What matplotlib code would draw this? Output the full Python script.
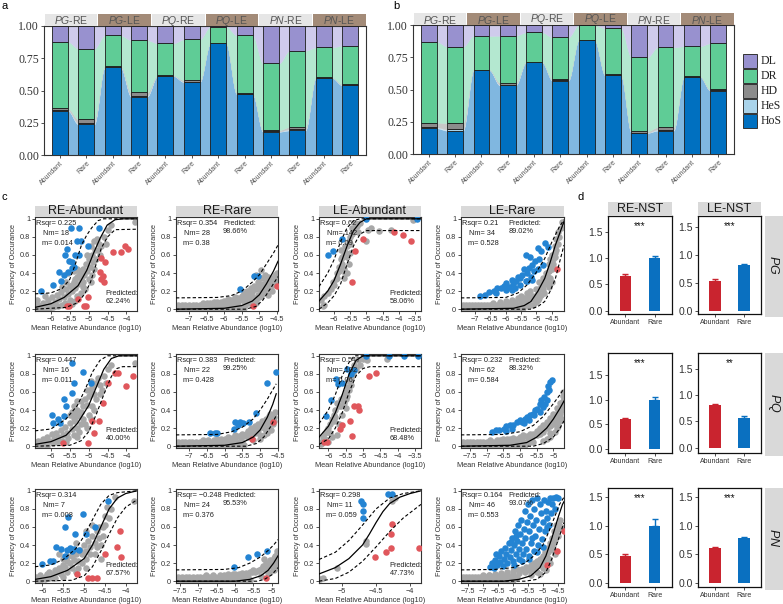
import numpy as np
import matplotlib
matplotlib.use("Agg")
import matplotlib.pyplot as plt
from matplotlib.patches import Rectangle

plt.rcParams['font.family'] = ['Liberation Sans', 'DejaVu Sans']
plt.rcParams['mathtext.fontset'] = 'custom'
plt.rcParams['mathtext.rm'] = 'Liberation Sans'
plt.rcParams['mathtext.it'] = 'Liberation Sans:italic'

# ---------------- DATA: panels a / b ----------------
BAR_LABELS = ["Abundant", "Rare"] * 6
GROUP_SPECIES = ["PG", "PG", "PQ", "PQ", "PN", "PN"]
GROUP_COMP = ["RE", "LE", "RE", "LE", "RE", "LE"]
LEGEND_NAMES = ["DL", "DR", "HD", "HeS", "HoS"]

A_HoS = [0.343, 0.237, 0.679, 0.452, 0.612, 0.565, 0.866, 0.473, 0.180, 0.190, 0.600, 0.540]
A_HeS = [0.005, 0.010, 0.003, 0.008, 0.002, 0.003, 0.000, 0.003, 0.003, 0.008, 0.000, 0.002]
A_HD = [0.013, 0.029, 0.010, 0.025, 0.004, 0.012, 0.000, 0.007, 0.010, 0.018, 0.003, 0.008]
A_DR = [0.517, 0.548, 0.235, 0.405, 0.248, 0.316, 0.129, 0.444, 0.517, 0.592, 0.231, 0.297]
A_DL = [0.122, 0.176, 0.073, 0.110, 0.134, 0.104, 0.005, 0.073, 0.290, 0.192, 0.166, 0.153]

B_HoS = [0.199, 0.181, 0.649, 0.532, 0.711, 0.568, 0.884, 0.610, 0.163, 0.181, 0.600, 0.491]
B_HeS = [0.008, 0.010, 0.002, 0.006, 0.002, 0.003, 0.000, 0.002, 0.003, 0.008, 0.000, 0.002]
B_HD = [0.036, 0.049, 0.004, 0.015, 0.003, 0.008, 0.000, 0.006, 0.010, 0.018, 0.003, 0.008]
B_DR = [0.628, 0.592, 0.260, 0.364, 0.227, 0.325, 0.116, 0.356, 0.573, 0.620, 0.232, 0.357]
B_DL = [0.129, 0.168, 0.085, 0.083, 0.057, 0.096, 0.000, 0.026, 0.251, 0.173, 0.165, 0.142]

# ---------------- DATA: panel c (neutral model scatter) ----------------
# ---- PG, RE-Abundant
PG_RE_AB_GRAY = [(-6.40,0.02),(-6.33,0.05),(-6.27,0.02),(-6.20,0.07),(-6.14,0.03),(-6.08,0.10),(-6.02,0.05),
                 (-5.96,0.13),(-5.90,0.08),(-5.84,0.16),(-5.78,0.11),(-5.72,0.19),(-5.66,0.14),(-5.60,0.22),
                 (-5.55,0.17),(-5.50,0.26),(-5.45,0.20),(-5.40,0.30),(-5.36,0.24),(-5.32,0.36),(-5.28,0.28),
                 (-5.24,0.42),(-5.20,0.33),(-5.16,0.45),(-5.12,0.38),(-5.08,0.50),(-5.04,0.42),(-5.00,0.55),
                 (-4.96,0.47),(-4.92,0.60),(-4.88,0.52),(-4.84,0.66),(-4.78,0.78),(-4.72,0.72),(-4.66,0.70),
                 (-4.60,0.80),(-4.50,0.88),(-4.40,0.93),(-3.78,0.97),(-6.36,0.10),(-6.15,0.15),(-5.95,0.02),
                 (-5.70,0.05),(-5.50,0.10),(-5.30,0.15),(-5.10,0.22),(-4.95,0.30),(-5.40,0.42),(-5.30,0.45),
                 (-5.55,0.40)]
PG_RE_AB_GRAY_MORE = [(-6.38,0.0),(-6.3,0.0),(-6.22,0.0),(-6.12,0.0),(-6.05,0.0),(-5.88,0.03),(-5.8,0.04),
                      (-5.62,0.07),(-5.45,0.06),(-5.35,0.09),(-5.2,0.18),(-5.15,0.25),(-5.0,0.33),(-4.9,0.38),
                      (-4.85,0.45),(-4.8,0.55),(-4.7,0.6),(-4.75,0.65),(-5.35,0.33),(-5.25,0.38),(-5.15,0.3),
                      (-5.45,0.27),(-5.6,0.3),(-5.7,0.25),(-5.05,0.6),(-4.95,0.7),(-4.85,0.75),(-4.55,0.72)]
PG_RE_AB_BLUE = [(-5.48,0.90),(-5.26,0.90),(-4.73,0.90),(-5.30,0.75),(-5.21,0.75),(-5.56,0.67),(-5.01,0.70),
                 (-5.63,0.60),(-5.37,0.60),(-5.26,0.60),(-5.52,0.53),(-5.43,0.52),(-5.45,0.46),(-5.40,0.47),
                 (-5.78,0.41),(-5.65,0.38),(-5.54,0.41),(-6.25,0.20),(-5.94,0.27),(-5.72,0.31)]
PG_RE_AB_RED = [(-4.35,0.63),(-4.15,0.63),(-4.04,0.70),(-3.95,0.67),(-4.66,0.57),(-4.58,0.52),(-4.69,0.41),
                (-4.62,0.37),(-4.66,0.33),(-4.60,0.30),(-5.58,0.03),(-5.52,0.03),(-5.12,0.03),(-5.07,0.03),
                (-5.29,0.11),(-5.01,0.14)]
PG_RE_AB_FIT = [(-6.42,0.02),(-6.0,0.06),(-5.65,0.13),(-5.28,0.26),(-5.05,0.43),(-4.87,0.62),(-4.69,0.79),
                (-4.51,0.93),(-4.3,0.99),(-4.1,1.0),(-3.72,1.0)]
PG_RE_AB_UP = [(-6.42,0.17),(-6.0,0.18),(-5.7,0.23),(-5.5,0.33),(-5.35,0.5),(-5.19,0.71),(-5.05,0.82),
               (-4.92,0.9),(-4.75,0.98),(-4.6,1.0),(-3.72,1.0)]
PG_RE_AB_LO = [(-6.42,0.0),(-5.6,0.02),(-5.3,0.07),(-5.1,0.17),(-4.95,0.3),(-4.8,0.5),(-4.66,0.68),
               (-4.5,0.8),(-4.3,0.88),(-3.72,0.885)]
PG_RE_AB_STATS = ("0.225", "18", "0.014", "62.24%")

# ---- PG, RE-Rare
PG_RE_RA_BAND = [(0.01, [-7.35,-7.25,-7.15,-7.05,-6.95,-6.85,-6.75,-6.65,-6.55,-6.45,-6.35,-6.25,-6.15,-6.05,
                         -5.95,-5.85,-5.75,-5.65,-5.55,-5.45]),
                 (0.05, [-7.30,-7.20,-7.10,-7.00,-6.90,-6.80,-6.70,-6.60,-6.50,-6.40,-6.30,-6.20,-6.10,-6.00,
                         -5.90,-5.80,-5.70,-5.60])]
PG_RE_RA_GRAY = [(-6.4,0.07),(-6.2,0.08),(-6.0,0.09),(-5.9,0.11),(-5.8,0.10),(-5.7,0.13),(-5.6,0.12),
                 (-5.5,0.15),(-5.45,0.18),(-5.4,0.14),(-5.35,0.20),(-5.3,0.17),(-5.25,0.23),(-5.2,0.19),
                 (-5.15,0.26),(-5.1,0.22),(-5.05,0.30),(-5.0,0.25),(-4.95,0.35),(-4.9,0.28),(-4.85,0.38),
                 (-4.8,0.32),(-4.75,0.36),(-4.7,0.30),(-4.6,0.34),(-4.55,0.33),(-5.3,0.07),(-5.1,0.10),
                 (-4.95,0.15),(-4.85,0.20),(-5.09,0.38),(-4.94,0.43)]
PG_RE_RA_GRAY_MORE = [(-6.6,0.065),(-6.5,0.07),(-6.3,0.075),(-6.1,0.08),(-5.95,0.085),(-5.85,0.07),(-5.75,0.09),
                      (-5.65,0.08),(-5.55,0.10),(-5.45,0.09),(-5.35,0.12),(-5.25,0.10),(-5.2,0.14),(-5.15,0.12),
                      (-5.05,0.16),(-5.0,0.13),(-4.95,0.20),(-4.9,0.18),(-4.85,0.24),(-4.8,0.22),(-4.75,0.27),
                      (-4.7,0.25),(-4.65,0.30),(-4.6,0.27),(-4.55,0.38),(-4.5,0.30),(-4.5,0.40),(-4.75,0.16),
                      (-4.65,0.20),(-5.1,0.07),(-5.4,0.05)]
PG_RE_RA_BLUE = [(-5.54,0.22),(-5.16,0.37),(-5.04,0.37)]
PG_RE_RA_RED = [(-5.19,0.04),(-4.50,0.26)]
PG_RE_RA_FIT = [(-7.37,0.0),(-6.0,0.01),(-5.5,0.04),(-5.2,0.09),(-5.0,0.16),(-4.8,0.28),(-4.6,0.42),(-4.47,0.53)]
PG_RE_RA_UP = [(-7.37,0.125),(-6.2,0.13),(-5.8,0.15),(-5.5,0.2),(-5.2,0.3),(-5.0,0.38),(-4.8,0.5),(-4.6,0.62),(-4.47,0.71)]
PG_RE_RA_LO = [(-7.37,0.0),(-5.4,0.0),(-5.1,0.03),(-4.9,0.1),(-4.7,0.22),(-4.47,0.36)]
PG_RE_RA_STATS = ("0.354", "28", "0.38", "98.66%")

# ---- PG, LE-Abundant
PG_LE_AB_GRAY = [(-6.4,0.10),(-6.35,0.03),(-6.3,0.05),(-6.1,0.22),(-6.0,0.27),(-5.95,0.33),(-5.9,0.40),
                 (-5.85,0.47),(-5.8,0.55),(-5.75,0.50),(-5.7,0.60),(-5.65,0.63),(-5.6,0.58),(-5.6,0.70),
                 (-5.55,0.75),(-5.5,0.80),(-5.45,0.83),(-5.4,0.88),(-5.3,0.92),(-5.2,0.95),(-5.6,0.40),
                 (-5.55,0.50),(-5.5,0.62),(-5.0,0.75),(-4.95,0.88),(-4.85,0.90),(-4.6,0.86),(-4.25,0.88),
                 (-3.55,0.99),(-5.7,0.45),(-5.8,0.65)]
PG_LE_AB_GRAY_MORE = [(-6.3,0.15),(-6.2,0.18),(-6.05,0.30),(-5.9,0.35),(-5.85,0.42),(-5.75,0.58),(-5.65,0.70),
                      (-5.5,0.72),(-5.45,0.90),(-5.35,0.95),(-5.25,0.85),(-5.7,0.35),(-5.65,0.40)]
PG_LE_AB_BLUE = [(-6.20,0.60),(-6.03,0.64),(-5.77,0.78),(-5.0,1.0),(-3.42,1.0)]
PG_LE_AB_RED = [(-5.46,0.30),(-5.36,0.64),(-5.12,0.78),(-4.14,0.85),(-3.88,0.82),(-3.62,0.75)]
PG_LE_AB_FIT = [(-6.47,0.09),(-6.2,0.2),(-6.0,0.32),(-5.8,0.5),(-5.6,0.7),(-5.4,0.87),(-5.2,0.96),(-5.0,1.0),(-3.31,1.0)]
PG_LE_AB_UP = [(-6.47,0.25),(-6.2,0.4),(-6.0,0.55),(-5.8,0.75),(-5.6,0.9),(-5.4,0.98),(-5.2,1.0),(-3.31,1.0)]
PG_LE_AB_LO = [(-6.47,0.0),(-6.2,0.07),(-6.0,0.15),(-5.8,0.28),(-5.6,0.5),(-5.4,0.7),(-5.2,0.83),(-5.0,0.87),(-3.31,0.87)]
PG_LE_AB_STATS = ("0.62", "142", "0.09", "58.06%")

# ---- PG, LE-Rare
PG_LE_RA_BAND = [(0.01, [-7.45,-7.35,-7.25,-7.15,-7.05,-6.95,-6.85,-6.75,-6.65,-6.55,-6.45,-6.35,-6.25,-6.15,
                         -6.05,-5.95,-5.85,-5.75,-5.65,-5.55,-5.45]),
                 (0.05, [-7.40,-7.30,-7.20,-7.10,-7.00,-6.90,-6.80,-6.70,-6.60,-6.50,-6.40,-6.30,-6.20,-6.10,
                         -6.00,-5.90,-5.80,-5.70,-5.60,-5.50,-5.40,-5.30,-5.20])]
PG_LE_RA_GRAY = [(-6.0,0.09),(-5.8,0.10),(-5.6,0.12),(-5.5,0.15),(-5.4,0.12),(-5.3,0.18),(-5.2,0.20),
                 (-5.1,0.15),(-5.0,0.22),(-4.9,0.30),(-4.85,0.25),(-4.8,0.35),(-4.7,0.40),(-4.65,0.33),
                 (-4.6,0.50),(-4.55,0.45),(-4.5,0.60),(-4.45,0.55),(-4.4,0.70),(-4.35,0.78),(-4.3,0.85),
                 (-4.2,0.90),(-4.15,0.96),(-5.0,0.08),(-4.9,0.12),(-4.75,0.18),(-4.6,0.25)]
PG_LE_RA_GRAY_MORE = [(-6.4,0.07),(-6.2,0.08),(-5.9,0.07),(-5.7,0.08),(-5.5,0.09),(-5.35,0.10),(-5.25,0.13),
                      (-5.15,0.11),(-5.05,0.14),(-4.95,0.18),(-4.9,0.22),(-4.8,0.22),(-4.75,0.28),(-4.7,0.30),
                      (-4.65,0.38),(-4.6,0.42),(-4.55,0.35),(-4.5,0.45),(-4.45,0.50),(-4.4,0.58),(-4.38,0.62),
                      (-4.35,0.65),(-4.3,0.72),(-4.25,0.80),(-4.5,0.30),(-4.55,0.55),(-4.65,0.28),(-4.85,0.16),
                      (-5.1,0.05),(-4.95,0.10)]
PG_LE_RA_BLUE = [(-6.83,0.15),(-6.69,0.16),(-6.55,0.19),(-6.38,0.20),(-6.30,0.23),(-6.15,0.23),(-6.07,0.26),
                 (-5.98,0.29),(-5.89,0.25),(-5.81,0.32),(-5.75,0.28),(-5.66,0.31),(-5.61,0.36),(-5.52,0.34),
                 (-5.47,0.38),(-5.41,0.44),(-5.35,0.31),(-5.30,0.40),(-5.24,0.46),(-5.18,0.36),(-5.13,0.49),
                 (-5.07,0.42),(-5.05,0.53),(-4.95,0.44),(-4.90,0.55),(-4.86,0.64),(-4.78,0.49),(-4.73,0.73),
                 (-4.61,0.69),(-5.52,0.27),(-5.69,0.24),(-5.30,0.31),(-5.13,0.32),(-5.98,0.21),(-5.81,0.21),
                 (-6.32,0.18),(-5.33,0.60),(-5.22,0.58),(-4.95,0.68)]
PG_LE_RA_RED = [(-4.33,0.44)]
PG_LE_RA_FIT = [(-7.46,0.0),(-5.75,0.01),(-5.4,0.04),(-5.18,0.085),(-4.95,0.2),(-4.73,0.34),(-4.55,0.52),(-4.38,0.71),(-4.1,0.97)]
PG_LE_RA_UP = [(-7.46,0.125),(-6.0,0.13),(-5.6,0.18),(-5.3,0.27),(-5.0,0.41),(-4.73,0.56),(-4.5,0.74),(-4.27,0.9),(-4.1,0.99)]
PG_LE_RA_LO = [(-7.46,0.0),(-5.2,0.0),(-4.95,0.03),(-4.73,0.085),(-4.55,0.2),(-4.38,0.34),(-4.1,0.71)]
PG_LE_RA_STATS = ("0.21", "34", "0.528", "89.02%")

# ---- PQ, RE-Abundant
PQ_RE_AB_GRAY = [(-6.40,0.02),(-6.34,0.06),(-6.28,0.03),(-6.22,0.08),(-6.16,0.04),(-6.10,0.10),(-6.04,0.06),
                 (-5.98,0.13),(-5.92,0.08),(-5.86,0.15),(-5.80,0.10),(-5.74,0.18),(-5.68,0.12),(-5.62,0.21),
                 (-5.56,0.15),(-5.50,0.26),(-5.45,0.19),(-5.40,0.31),(-5.35,0.36),(-5.30,0.40),(-5.25,0.33),
                 (-5.20,0.38),(-5.15,0.44),(-5.10,0.52),(-5.05,0.46),(-5.00,0.56),(-4.95,0.60),(-4.90,0.66),
                 (-4.85,0.58),(-4.80,0.70),(-4.75,0.75),(-4.70,0.68),(-4.60,0.78),(-4.50,0.85),(-4.40,0.90),
                 (-3.78,0.92),(-5.60,0.05),(-5.30,0.10),(-5.05,0.20),(-4.95,0.30),(-4.85,0.40),(-5.20,0.25),
                 (-5.45,0.38),(-5.35,0.28)]
PQ_RE_AB_GRAY_MORE = [(-6.38,0.0),(-6.3,0.0),(-6.2,0.02),(-6.1,0.0),(-5.95,0.03),(-5.85,0.05),(-5.7,0.06),
                      (-5.55,0.09),(-5.4,0.12),(-5.3,0.20),(-5.25,0.16),(-5.15,0.30),(-5.1,0.25),(-5.0,0.35),
                      (-4.9,0.45),(-4.8,0.52),(-4.7,0.58),(-4.65,0.62),(-5.4,0.45),(-5.3,0.50),(-5.2,0.50),
                      (-5.5,0.35),(-5.05,0.62),(-4.95,0.72),(-4.55,0.70)]
PQ_RE_AB_BLUE = [(-5.43,0.92),(-5.15,0.82),(-5.38,0.70),(-5.44,0.59),(-5.65,0.52),(-5.61,0.44),(-4.95,0.70),
                 (-5.96,0.34),(-5.94,0.26),(-5.76,0.26),(-5.65,0.33),(-5.80,0.30)]
PQ_RE_AB_RED = [(-4.48,0.70),(-4.31,0.81),(-4.22,0.81),(-3.82,0.78),(-4.00,0.67),(-4.92,0.28),(-4.73,0.28),
                (-4.85,0.15),(-5.03,0.04),(-5.67,0.04),(-4.62,0.48)]
PQ_RE_AB_FIT = [(-6.42,0.02),(-6.0,0.05),(-5.6,0.12),(-5.3,0.25),(-5.0,0.45),(-4.8,0.65),(-4.6,0.85),(-4.4,0.97),(-4.2,1.0),(-3.72,1.0)]
PQ_RE_AB_UP = [(-6.42,0.17),(-6.0,0.19),(-5.6,0.3),(-5.3,0.45),(-5.1,0.62),(-4.9,0.82),(-4.7,0.95),(-4.5,1.0),(-3.72,1.0)]
PQ_RE_AB_LO = [(-6.42,0.0),(-5.5,0.01),(-5.2,0.06),(-5.0,0.16),(-4.8,0.35),(-4.6,0.57),(-4.4,0.77),(-4.25,0.86),(-4.1,0.88),(-3.72,0.88)]
PQ_RE_AB_STATS = ("0.447", "16", "0.011", "40.00%")

# ---- PQ, RE-Rare
PQ_RE_RA_BAND = [(0.01, [-7.35,-7.25,-7.15,-7.05,-6.95,-6.85,-6.75,-6.65,-6.55,-6.45,-6.35,-6.25,-6.15,-6.05,
                         -5.95,-5.85,-5.75,-5.65,-5.55,-5.45]),
                 (0.05, [-7.30,-7.20,-7.10,-7.00,-6.90,-6.80,-6.70,-6.60,-6.50,-6.40,-6.30,-6.20,-6.10,-6.00,
                         -5.90,-5.80,-5.70,-5.60,-5.50])]
PQ_RE_RA_GRAY = [(-6.3,0.07),(-6.1,0.08),(-5.9,0.10),(-5.8,0.09),(-5.7,0.12),(-5.6,0.11),(-5.5,0.14),
                 (-5.4,0.13),(-5.35,0.17),(-5.3,0.15),(-5.25,0.20),(-5.2,0.18),(-5.15,0.22),(-5.1,0.20),
                 (-5.05,0.25),(-5.0,0.23),(-4.95,0.28),(-4.9,0.26),(-4.85,0.30),(-4.8,0.28),(-4.75,0.33),
                 (-4.7,0.30),(-4.65,0.35),(-4.6,0.28),(-5.2,0.07),(-5.0,0.12),(-4.85,0.18),(-4.72,0.36)]
PQ_RE_RA_GRAY_MORE = [(-6.6,0.065),(-6.45,0.07),(-6.2,0.075),(-6.0,0.08),(-5.85,0.07),(-5.7,0.09),(-5.55,0.10),
                      (-5.45,0.11),(-5.35,0.10),(-5.25,0.13),(-5.15,0.15),(-5.05,0.18),(-4.95,0.22),(-4.9,0.20),
                      (-4.8,0.25),(-4.75,0.23),(-4.7,0.27),(-4.65,0.25),(-4.6,0.32),(-4.58,0.38),(-4.9,0.12),
                      (-4.8,0.15),(-4.7,0.18),(-5.0,0.08)]
PQ_RE_RA_BLUE = [(-6.40,0.15),(-6.28,0.15),(-6.21,0.15),(-5.73,0.19),(-5.70,0.27),(-5.57,0.27),(-5.47,0.26),
                 (-5.30,0.27),(-5.11,0.37),(-4.80,0.70),(-4.57,0.82),(-5.63,0.23)]
PQ_RE_RA_RED = [(-5.23,0.08),(-4.63,0.27)]
PQ_RE_RA_FIT = [(-7.36,0.0),(-6.0,0.01),(-5.5,0.04),(-5.2,0.10),(-5.0,0.18),(-4.8,0.32),(-4.65,0.46),(-4.55,0.58)]
PQ_RE_RA_UP = [(-7.36,0.125),(-6.2,0.13),(-5.8,0.16),(-5.5,0.21),(-5.2,0.30),(-5.0,0.40),(-4.8,0.52),(-4.55,0.69)]
PQ_RE_RA_LO = [(-7.36,0.0),(-5.4,0.0),(-5.1,0.03),(-4.9,0.10),(-4.7,0.22),(-4.55,0.34)]
PQ_RE_RA_STATS = ("0.383", "22", "0.428", "99.25%")

# ---- PQ, LE-Abundant
PQ_LE_AB_GRAY = [(-6.2,0.05),(-6.15,0.10),(-6.1,0.15),(-6.0,0.20),(-5.95,0.25),(-5.9,0.30),(-5.85,0.35),
                 (-5.8,0.40),(-5.7,0.45),(-5.65,0.52),(-5.6,0.52),(-5.55,0.55),(-5.5,0.60),(-5.45,0.65),
                 (-5.4,0.72),(-5.35,0.75),(-5.3,0.80),(-5.2,0.85),(-5.1,0.90),(-5.0,0.97),(-4.9,0.95),
                 (-4.3,0.97),(-5.7,0.25),(-5.6,0.35),(-5.5,0.42),(-5.75,0.12),(-5.9,0.10),(-6.0,0.05)]
PQ_LE_AB_GRAY_MORE = [(-6.22,0.02),(-6.1,0.08),(-6.05,0.18),(-5.95,0.15),(-5.85,0.28),(-5.8,0.32),(-5.75,0.48),
                      (-5.65,0.45),(-5.55,0.48),(-5.5,0.52),(-5.45,0.55),(-5.4,0.62),(-5.35,0.68),(-5.25,0.90),
                      (-5.15,0.95)]
PQ_LE_AB_BLUE = [(-6.08,0.33),(-5.93,0.51),(-5.79,0.74),(-5.71,0.69),(-5.47,0.85),(-5.35,0.80),(-5.26,0.84),
                 (-4.92,1.0),(-4.25,1.0),(-3.83,1.0),(-3.43,1.0),(-5.60,0.70)]
PQ_LE_AB_RED = [(-6.13,0.05),(-6.03,0.05),(-5.66,0.19),(-5.60,0.23),(-5.31,0.11),(-5.26,0.45),(-5.16,0.45),
                (-5.11,0.40),(-4.82,0.78),(-4.63,0.81),(-5.37,0.28)]
PQ_LE_AB_FIT = [(-6.27,0.10),(-6.0,0.22),(-5.8,0.37),(-5.6,0.57),(-5.4,0.80),(-5.2,0.95),(-5.0,1.0),(-3.33,1.0)]
PQ_LE_AB_UP = [(-6.27,0.25),(-6.0,0.40),(-5.8,0.57),(-5.6,0.78),(-5.4,0.93),(-5.25,1.0),(-3.33,1.0)]
PQ_LE_AB_LO = [(-6.27,0.02),(-6.0,0.08),(-5.8,0.20),(-5.6,0.37),(-5.4,0.60),(-5.2,0.78),(-5.0,0.86),(-4.8,0.88),(-3.33,0.88)]
PQ_LE_AB_STATS = ("0.547", "102", "0.06", "68.48%")

# ---- PQ, LE-Rare
PQ_LE_RA_BAND = [(0.01, [-7.75,-7.65,-7.55,-7.45,-7.35,-7.25,-7.15,-7.05,-6.95,-6.85,-6.75,-6.65,-6.55,-6.45,
                         -6.35,-6.25,-6.15,-6.05,-5.95,-5.85]),
                 (0.05, [-7.70,-7.60,-7.50,-7.40,-7.30,-7.20,-7.10,-7.00,-6.90,-6.80,-6.70,-6.60,-6.50,-6.40,
                         -6.30,-6.20,-6.10,-6.00,-5.90,-5.80,-5.70,-5.60])]
PQ_LE_RA_GRAY = [(-6.6,0.07),(-6.4,0.08),(-6.2,0.09),(-6.0,0.10),(-5.9,0.12),(-5.8,0.11),(-5.7,0.14),
                 (-5.6,0.13),(-5.5,0.17),(-5.45,0.15),(-5.4,0.20),(-5.35,0.18),(-5.3,0.23),(-5.25,0.20),
                 (-5.2,0.27),(-5.15,0.24),(-5.1,0.31),(-5.05,0.28),(-5.0,0.36),(-4.95,0.33),(-4.9,0.42),
                 (-4.85,0.38),(-4.8,0.48),(-4.75,0.44),(-4.72,0.55),(-4.70,0.60),(-5.3,0.06),(-5.1,0.10),
                 (-4.95,0.16),(-4.85,0.22),(-4.75,0.30)]
PQ_LE_RA_GRAY_MORE = [(-6.9,0.065),(-6.7,0.07),(-6.5,0.075),(-6.3,0.08),(-6.1,0.085),(-5.95,0.09),(-5.75,0.095),
                      (-5.65,0.10),(-5.5,0.12),(-5.4,0.14),(-5.3,0.16),(-5.2,0.20),(-5.1,0.22),(-5.0,0.25),
                      (-4.95,0.27),(-4.9,0.30),(-4.85,0.32),(-4.8,0.36),(-4.75,0.40),(-4.72,0.45),(-4.7,0.50),
                      (-4.9,0.20),(-4.8,0.28),(-5.1,0.15),(-5.2,0.08)]
PQ_LE_RA_BLUE = [(-6.83,0.16),(-6.72,0.18),(-6.62,0.18),(-6.49,0.19),(-6.41,0.22),(-6.30,0.24),(-6.20,0.24),
                 (-6.09,0.27),(-6.01,0.29),(-5.94,0.27),(-5.86,0.30),(-5.78,0.32),(-5.70,0.34),(-5.62,0.36),
                 (-5.55,0.40),(-5.49,0.41),(-5.41,0.47),(-5.36,0.51),(-5.29,0.54),(-5.26,0.47),(-5.20,0.60),
                 (-5.15,0.67),(-5.10,0.71),(-5.05,0.73),(-5.41,0.38),(-5.57,0.34),(-5.73,0.29),(-5.89,0.26),
                 (-5.31,0.43),(-5.18,0.51),(-5.13,0.62),(-6.43,0.17),(-6.25,0.19)]
PQ_LE_RA_RED = []
PQ_LE_RA_FIT = [(-7.77,0.0),(-6.3,0.01),(-5.8,0.04),(-5.5,0.10),(-5.2,0.20),(-5.0,0.30),(-4.8,0.42),(-4.68,0.50)]
PQ_LE_RA_UP = [(-7.77,0.125),(-6.5,0.13),(-6.0,0.16),(-5.6,0.23),(-5.3,0.33),(-5.0,0.47),(-4.8,0.57),(-4.68,0.64)]
PQ_LE_RA_LO = [(-7.77,0.0),(-5.6,0.0),(-5.3,0.03),(-5.0,0.10),(-4.8,0.20),(-4.68,0.28)]
PQ_LE_RA_STATS = ("0.232", "62", "0.584", "88.32%")

# ---- PN, RE-Abundant
PN_RE_AB_GRAY = [(-6.15,0.05),(-6.10,0.02),(-6.05,0.07),(-5.95,0.05),(-5.90,0.08),(-5.85,0.10),(-5.80,0.05),
                 (-5.75,0.08),(-5.70,0.12),(-5.65,0.10),(-5.60,0.15),(-5.55,0.14),(-5.50,0.18),(-5.45,0.16),
                 (-5.40,0.22),(-5.35,0.20),(-5.30,0.28),(-5.25,0.24),(-5.20,0.30),(-5.15,0.22),(-5.10,0.35),
                 (-5.05,0.30),(-5.00,0.40),(-4.95,0.33),(-4.90,0.45),(-4.85,0.38),(-4.80,0.50),(-4.75,0.42),
                 (-4.70,0.55),(-4.65,0.48),(-4.60,0.40),(-4.55,0.60),(-4.50,0.72),(-4.45,0.82),(-4.35,0.80),
                 (-4.25,0.93),(-3.80,0.89),(-5.50,0.05),(-5.20,0.10),(-4.95,0.15),(-5.60,0.30),(-5.40,0.28),
                 (-4.75,0.30),(-4.60,0.25)]
PN_RE_AB_GRAY_MORE = [(-6.15,0.0),(-6.05,0.0),(-5.95,0.02),(-5.85,0.03),(-5.7,0.04),(-5.55,0.08),(-5.4,0.10),
                      (-5.3,0.15),(-5.15,0.15),(-5.05,0.20),(-4.95,0.25),(-4.85,0.30),(-4.7,0.38),(-4.65,0.60),
                      (-4.55,0.50),(-4.5,0.62),(-4.4,0.70),(-5.5,0.25),(-5.2,0.42),(-4.8,0.62),(-4.95,0.55)]
PN_RE_AB_BLUE = [(-4.43,0.89),(-5.38,0.71),(-5.03,0.74),(-5.47,0.60),(-5.23,0.52),(-4.96,0.52),(-4.75,0.60),
                 (-5.67,0.38),(-5.55,0.36),(-5.41,0.35),(-5.35,0.37),(-5.25,0.36),(-5.12,0.35),(-6.01,0.19),
                 (-5.82,0.22),(-5.74,0.22),(-5.46,0.28),(-5.30,0.33)]
PN_RE_AB_RED = [(-4.14,0.56),(-4.20,0.38),(-4.12,0.27),(-4.50,0.30),(-4.90,0.04),(-4.82,0.04),(-4.70,0.04),(-5.18,0.08)]
PN_RE_AB_FIT = [(-6.18,0.02),(-5.8,0.05),(-5.4,0.12),(-5.0,0.25),(-4.8,0.40),(-4.6,0.60),(-4.4,0.80),(-4.2,0.92),(-4.0,0.97),(-3.73,1.0)]
PN_RE_AB_UP = [(-6.18,0.16),(-5.8,0.18),(-5.5,0.24),(-5.2,0.36),(-5.0,0.50),(-4.8,0.68),(-4.6,0.85),(-4.4,0.95),(-4.2,0.98),(-3.73,1.0)]
PN_RE_AB_LO = [(-6.18,0.0),(-5.3,0.01),(-5.0,0.06),(-4.8,0.16),(-4.6,0.33),(-4.4,0.52),(-4.2,0.70),(-4.0,0.82),(-3.73,0.90)]
PN_RE_AB_STATS = ("0.314", "7", "0.008", "67.57%")

# ---- PN, RE-Rare
PN_RE_RA_BAND = [(0.01, [-7.60,-7.50,-7.40,-7.30,-7.20,-7.10,-7.00,-6.90,-6.80,-6.70,-6.60,-6.50,-6.40,-6.30,
                         -6.20,-6.10,-6.00,-5.90,-5.80,-5.70,-5.60]),
                 (0.05, [-7.55,-7.45,-7.35,-7.25,-7.15,-7.05,-6.95,-6.85,-6.75,-6.65,-6.55,-6.45,-6.35,-6.25,
                         -6.15,-6.05,-5.95,-5.85,-5.75,-5.65])]
PN_RE_RA_GRAY = [(-6.3,0.07),(-6.0,0.08),(-5.8,0.09),(-5.6,0.10),(-5.5,0.12),(-5.4,0.11),(-5.3,0.14),
                 (-5.25,0.17),(-5.2,0.15),(-5.15,0.20),(-5.1,0.18),(-5.05,0.23),(-5.0,0.21),(-4.95,0.26),
                 (-4.9,0.24),(-4.87,0.30),(-4.86,0.33),(-5.3,0.06),(-5.1,0.09),(-4.95,0.13),(-5.2,0.25)]
PN_RE_RA_GRAY_MORE = [(-6.8,0.065),(-6.6,0.07),(-6.4,0.07),(-6.2,0.075),(-6.05,0.08),(-5.9,0.085),(-5.7,0.09),
                      (-5.55,0.10),(-5.45,0.10),(-5.35,0.12),(-5.25,0.13),(-5.15,0.15),(-5.05,0.18),(-5.0,0.17),
                      (-4.95,0.22),(-4.9,0.20),(-4.9,0.28),(-5.05,0.10),(-4.95,0.12),(-4.88,0.18)]
PN_RE_RA_BLUE = [(-6.04,0.16),(-5.66,0.27),(-5.40,0.30),(-5.12,0.33)]
PN_RE_RA_RED = [(-5.16,0.03)]
PN_RE_RA_FIT = [(-7.61,0.0),(-6.0,0.0),(-5.6,0.02),(-5.3,0.06),(-5.1,0.12),(-4.95,0.20),(-4.83,0.28)]
PN_RE_RA_UP = [(-7.61,0.125),(-6.3,0.13),(-5.9,0.15),(-5.6,0.20),(-5.3,0.27),(-5.1,0.34),(-4.95,0.40),(-4.83,0.46)]
PN_RE_RA_LO = [(-7.61,0.0),(-5.4,0.0),(-5.2,0.02),(-5.0,0.07),(-4.83,0.15)]
PN_RE_RA_STATS = ("\u22120.248", "24", "0.376", "95.53%")

# ---- PN, LE-Abundant
PN_LE_AB_GRAY = [(-5.32,0.02),(-5.28,0.04),(-5.08,0.15),(-4.65,0.44),(-4.65,0.41),(-4.26,0.89),(-4.22,0.92)]
PN_LE_AB_GRAY_MORE = []
PN_LE_AB_BLUE = [(-4.72,0.89),(-4.69,0.85),(-4.69,0.78),(-4.69,0.70),(-4.33,0.96),(-4.27,0.96)]
PN_LE_AB_RED = [(-4.27,0.63),(-4.28,0.52),(-4.28,0.37),(-4.36,0.32),(-4.51,0.27),(-3.87,0.37)]
PN_LE_AB_FIT = [(-5.34,0.08),(-5.1,0.15),(-4.9,0.25),(-4.7,0.40),(-4.6,0.52),(-4.5,0.65),(-4.4,0.77),(-4.3,0.86),(-4.15,0.93),(-4.0,0.97),(-3.84,1.0)]
PN_LE_AB_UP = [(-5.34,0.24),(-5.1,0.32),(-4.9,0.45),(-4.7,0.62),(-4.5,0.80),(-4.3,0.92),(-4.1,0.97),(-3.84,1.0)]
PN_LE_AB_LO = [(-5.34,0.0),(-5.1,0.03),(-4.9,0.10),(-4.7,0.22),(-4.5,0.38),(-4.3,0.55),(-4.1,0.70),(-3.84,0.85)]
PN_LE_AB_STATS = ("0.298", "11", "0.059", "47.73%")

# ---- PN, LE-Rare
PN_LE_RA_BAND = [(0.01, [-7.70,-7.60,-7.50,-7.40,-7.30,-7.20,-7.10,-7.00,-6.90,-6.80,-6.70,-6.60,-6.50,-6.40,
                         -6.30,-6.20,-6.10,-6.00]),
                 (0.05, [-7.65,-7.55,-7.45,-7.35,-7.25,-7.15,-7.05,-6.95,-6.85,-6.75,-6.65,-6.55,-6.45,-6.35,
                         -6.25,-6.15,-6.05,-5.95,-5.85])]
PN_LE_RA_GRAY = [(-6.8,0.07),(-6.6,0.08),(-6.4,0.09),(-6.2,0.10),(-6.0,0.11),(-5.85,0.13),(-5.7,0.14),
                 (-5.55,0.16),(-5.4,0.18),(-5.3,0.20),(-5.2,0.22),(-5.1,0.25),(-5.0,0.28),(-4.92,0.32),
                 (-4.85,0.37),(-4.78,0.42),(-4.7,0.48),(-4.62,0.55),(-4.55,0.62),(-4.42,0.68),(-4.5,0.50),
                 (-4.65,0.35),(-4.8,0.25),(-5.0,0.15),(-5.2,0.10),(-5.4,0.07)]
PN_LE_RA_GRAY_MORE = [(-7.0,0.065),(-6.8,0.07),(-6.6,0.07),(-6.4,0.075),(-6.2,0.08),(-6.0,0.085),(-5.8,0.09),
                      (-5.6,0.10),(-5.45,0.12),(-5.35,0.14),(-5.25,0.16),(-5.15,0.18),(-5.05,0.20),(-4.95,0.24),
                      (-4.88,0.27),(-4.82,0.32),(-4.75,0.36),(-4.68,0.40),(-4.6,0.46),(-4.55,0.52),(-4.48,0.58),
                      (-4.45,0.62),(-4.4,0.60),(-4.6,0.30),(-4.75,0.20),(-4.9,0.12),(-5.1,0.08)]
PN_LE_RA_BLUE = [(-6.75,0.16),(-6.68,0.20),(-6.62,0.15),(-6.58,0.24),(-6.52,0.18),(-6.47,0.28),(-6.42,0.21),
                 (-6.38,0.33),(-6.33,0.17),(-6.30,0.25),(-6.25,0.37),(-6.22,0.30),(-6.18,0.20),(-6.14,0.42),
                 (-6.10,0.27),(-6.07,0.35),(-6.03,0.48),(-6.00,0.22),(-5.97,0.40),(-5.94,0.55),(-5.90,0.30),
                 (-5.87,0.45),(-5.84,0.62),(-5.80,0.36),(-5.78,0.25),(-5.75,0.52),(-5.72,0.68),(-5.69,0.42),
                 (-5.66,0.30),(-5.63,0.58),(-5.60,0.78),(-5.58,0.48),(-5.55,0.36),(-5.52,0.65),(-5.50,0.85),
                 (-5.47,0.25),(-5.45,0.55),(-5.42,0.72),(-5.40,0.42),(-5.37,0.90),(-5.34,0.62),(-5.31,0.33),
                 (-5.28,0.80),(-5.25,0.50),(-5.22,0.68),(-5.20,0.92),(-5.17,0.40),(-5.14,0.58),(-5.10,0.85),
                 (-5.07,0.75),(-5.04,0.47),(-5.00,0.65),(-4.97,0.90),(-4.94,0.55),(-4.90,0.78),(-4.87,0.70),
                 (-4.83,0.88),(-4.80,0.62),(-4.77,0.92),(-4.73,0.75),(-4.70,0.85),(-4.65,0.92),(-4.60,0.80),
                 (-4.55,0.93),(-6.55,0.30),(-5.95,0.18),(-5.70,0.22),(-5.45,0.28),(-5.20,0.32),(-5.00,0.38),
                 (-4.85,0.60),(-4.50,0.92),(-5.35,0.48),(-5.90,0.50),(-6.05,0.43)]
PN_LE_RA_RED = [(-4.88,0.18),(-4.53,0.33),(-4.30,0.55)]
PN_LE_RA_FIT = [(-7.72,0.0),(-6.3,0.0),(-5.8,0.02),(-5.4,0.06),(-5.1,0.15),(-4.9,0.28),(-4.7,0.48),(-4.5,0.70),(-4.35,0.85),(-4.3,0.88)]
PN_LE_RA_UP = [(-7.72,0.125),(-6.6,0.13),(-6.0,0.15),(-5.6,0.20),(-5.3,0.28),(-5.0,0.40),(-4.8,0.55),(-4.6,0.72),(-4.45,0.85),(-4.3,0.93)]
PN_LE_RA_LO = [(-7.72,0.0),(-5.6,0.0),(-5.2,0.02),(-4.9,0.10),(-4.7,0.25),(-4.5,0.45),(-4.3,0.65)]
PN_LE_RA_STATS = ("0.164", "46", "0.553", "93.07%")

C_TITLES = ["RE-Abundant", "RE-Rare", "LE-Abundant", "LE-Rare"]

# ---------------- DATA: panel d (NST) ----------------
NST_GROUPS = ["Abundant", "Rare"]
NST_ROWS = ["PG", "PQ", "PN"]
NST_COLS = ["RE-NST", "LE-NST"]
NST_RE_PG = [0.67, 1.00]; NST_RE_PG_ERR = [0.02, 0.04]
NST_LE_PG = [0.54, 0.82]; NST_LE_PG_ERR = [0.02, 0.02]
NST_RE_PQ = [0.61, 1.00]; NST_RE_PQ_ERR = [0.02, 0.05]
NST_LE_PQ = [0.81, 0.56]; NST_LE_PQ_ERR = [0.02, 0.04]
NST_RE_PN = [0.48, 1.00]; NST_RE_PN_ERR = [0.03, 0.12]
NST_LE_PN = [0.61, 0.79]; NST_LE_PN_ERR = [0.02, 0.01]
NST_SIG = [["***", "***"], ["***", "**"], ["***", "***"]]

# ---------------- FIGURE ----------------
W, H = 783, 604
fig = plt.figure(figsize=(W / 100, H / 100), dpi=100)


def ax_px(x0, y0, x1, y1):
    return fig.add_axes([x0 / W, 1 - y1 / H, (x1 - x0) / W, (y1 - y0) / H])


def fig_rect(x0, y0, x1, y1, color, ec='none', lw=0):
    fig.add_artist(Rectangle((x0 / W, 1 - y1 / H), (x1 - x0) / W, (y1 - y0) / H,
                             transform=fig.transFigure, facecolor=color, edgecolor=ec, linewidth=lw))


def fig_text(x, y, s, **kw):
    fig.text(x / W, 1 - y / H, s, **kw)


BAR_COLORS = ["#0070c0", "#a9d3ea", "#8c8c8c", "#5fcc96", "#9891cf"]
FLOW_COLORS = ["#80b7e0", "#cfe6f2", "#c8c8c8", "#b4e8d0", "#cfcbec"]
LEGEND_COLORS = {"HoS": BAR_COLORS[0], "HeS": BAR_COLORS[1], "HD": BAR_COLORS[2],
                 "DR": BAR_COLORS[3], "DL": BAR_COLORS[4]}


def draw_alluvial(ax, layers):
    n = len(layers[0])
    xs = np.arange(n)
    w = 0.6
    bottoms = []
    cum = np.zeros(n)
    for L in layers:
        bottoms.append(cum.copy())
        cum = cum + np.asarray(L)
    t = np.linspace(0, 1, 60)
    s = t * t * (3 - 2 * t)
    for i in range(n - 1):
        xa, xb = xs[i] + w / 2, xs[i + 1] - w / 2
        xx = xa + (xb - xa) * t
        for L, b, fc in zip(layers, bottoms, FLOW_COLORS):
            lo = b[i] + (b[i + 1] - b[i]) * s
            top_a, top_b = b[i] + L[i], b[i + 1] + L[i + 1]
            hi = top_a + (top_b - top_a) * s
            ax.fill_between(xx, lo, hi, facecolor=fc, edgecolor=fc, linewidth=0.3)
    for L, b, c in zip(layers, bottoms, BAR_COLORS):
        ax.bar(xs, L, w, bottom=b, color=c, edgecolor='#1a1a1a', linewidth=0.6, zorder=3)
    ax.set_xlim(-0.6, n - 1 + 0.6)
    ax.set_ylim(0, 1)
    ax.set_xticks(xs)
    ax.set_xticklabels(BAR_LABELS, rotation=45, ha='right', va='top', rotation_mode='anchor',
                       fontsize=5, color='#555555')
    ax.set_yticks([0, 0.25, 0.5, 0.75, 1.0])
    ax.set_yticklabels(["0.00", "0.25", "0.50", "0.75", "1.00"], fontsize=8.5,
                       fontfamily='Liberation Serif', color='#333333')
    ax.tick_params(length=2, width=0.6, color='#333333', pad=1.5)
    for sp in ax.spines.values():
        sp.set_color('#333333')
        sp.set_linewidth(0.8)


def draw_group_strips(x0, x1, y0, y1):
    wd = (x1 - x0) / 6
    for k in range(6):
        col = '#e6e6e6' if GROUP_COMP[k] == "RE" else '#a38b78'
        fig_rect(x0 + k * wd + 0.5, y0, x0 + (k + 1) * wd - 0.5, y1, col)
        fig_text(x0 + (k + 0.5) * wd, (y0 + y1) / 2 + 0.5,
                 r"$\mathit{" + GROUP_SPECIES[k] + "}$-" + GROUP_COMP[k],
                 ha='center', va='center', fontsize=7.5, color='#555555')


# panel a
ax_a = ax_px(44, 26, 366, 155)
draw_alluvial(ax_a, [A_HoS, A_HeS, A_HD, A_DR, A_DL])
draw_group_strips(44, 366, 14, 26)
# panel b
ax_b = ax_px(413, 25, 734, 154)
draw_alluvial(ax_b, [B_HoS, B_HeS, B_HD, B_DR, B_DL])
draw_group_strips(413, 734, 13, 25)

# legend
for k, nm in enumerate(LEGEND_NAMES):
    yc = 61 + k * 15
    fig_rect(743, yc - 7, 757, yc + 7, LEGEND_COLORS[nm], ec='#333333', lw=0.7)
    fig_text(761, yc, nm, ha='left', va='center', fontsize=8.5, fontfamily='Liberation Serif',
             color='#222222')

fig_text(2, 6, "a", fontsize=8, ha='left', va='center')
fig_text(393, 6, "b", fontsize=8, ha='left', va='center')
fig_text(2, 197, "c", fontsize=8, ha='left', va='center')
fig_text(578, 197, "d", fontsize=8, ha='left', va='center')

# ---------------- panel c ----------------
GRAY_C = '#a8a8a8'
BLUE_C = '#2484d3'
RED_C = '#e0575c'

C_COLS = [(35, 137), (176, 278), (319, 421), (461, 564)]
C_ROWS = [(217, 311), (354, 448), (489, 583)]

C_PANELS = [
    # row, col, xlim, xticks, gray, band, blue, red, fit, up, lo, stats, predicted-on-top
    (0, 0, (-6.42, -3.72), [-6, -5.5, -5, -4.5, -4], PG_RE_AB_GRAY + PG_RE_AB_GRAY_MORE, None, PG_RE_AB_BLUE,
     PG_RE_AB_RED, PG_RE_AB_FIT, PG_RE_AB_UP, PG_RE_AB_LO, PG_RE_AB_STATS, False),
    (0, 1, (-7.37, -4.47), [-7, -6.5, -6, -5.5, -5, -4.5], PG_RE_RA_GRAY + PG_RE_RA_GRAY_MORE, PG_RE_RA_BAND,
     PG_RE_RA_BLUE, PG_RE_RA_RED, PG_RE_RA_FIT, PG_RE_RA_UP, PG_RE_RA_LO, PG_RE_RA_STATS, True),
    (0, 2, (-6.47, -3.31), [-6, -5.5, -5, -4.5, -4, -3.5], PG_LE_AB_GRAY + PG_LE_AB_GRAY_MORE, None,
     PG_LE_AB_BLUE, PG_LE_AB_RED, PG_LE_AB_FIT, PG_LE_AB_UP, PG_LE_AB_LO, PG_LE_AB_STATS, False),
    (0, 3, (-7.46, -4.1), [-7, -6.5, -6, -5.5, -5, -4.5], PG_LE_RA_GRAY + PG_LE_RA_GRAY_MORE, PG_LE_RA_BAND,
     PG_LE_RA_BLUE, PG_LE_RA_RED, PG_LE_RA_FIT, PG_LE_RA_UP, PG_LE_RA_LO, PG_LE_RA_STATS, True),
    (1, 0, (-6.42, -3.72), [-6, -5.5, -5, -4.5, -4], PQ_RE_AB_GRAY + PQ_RE_AB_GRAY_MORE, None, PQ_RE_AB_BLUE,
     PQ_RE_AB_RED, PQ_RE_AB_FIT, PQ_RE_AB_UP, PQ_RE_AB_LO, PQ_RE_AB_STATS, False),
    (1, 1, (-7.36, -4.55), [-7, -6.5, -6, -5.5, -5, -4.5], PQ_RE_RA_GRAY + PQ_RE_RA_GRAY_MORE, PQ_RE_RA_BAND,
     PQ_RE_RA_BLUE, PQ_RE_RA_RED, PQ_RE_RA_FIT, PQ_RE_RA_UP, PQ_RE_RA_LO, PQ_RE_RA_STATS, True),
    (1, 2, (-6.27, -3.33), [-6, -5.5, -5, -4.5, -4, -3.5], PQ_LE_AB_GRAY + PQ_LE_AB_GRAY_MORE, None,
     PQ_LE_AB_BLUE, PQ_LE_AB_RED, PQ_LE_AB_FIT, PQ_LE_AB_UP, PQ_LE_AB_LO, PQ_LE_AB_STATS, False),
    (1, 3, (-7.77, -4.68), [-7.5, -7, -6.5, -6, -5.5, -5], PQ_LE_RA_GRAY + PQ_LE_RA_GRAY_MORE, PQ_LE_RA_BAND,
     PQ_LE_RA_BLUE, PQ_LE_RA_RED, PQ_LE_RA_FIT, PQ_LE_RA_UP, PQ_LE_RA_LO, PQ_LE_RA_STATS, True),
    (2, 0, (-6.18, -3.73), [-6, -5.5, -5, -4.5, -4], PN_RE_AB_GRAY + PN_RE_AB_GRAY_MORE, None, PN_RE_AB_BLUE,
     PN_RE_AB_RED, PN_RE_AB_FIT, PN_RE_AB_UP, PN_RE_AB_LO, PN_RE_AB_STATS, False),
    (2, 1, (-7.61, -4.83), [-7.5, -7, -6.5, -6, -5.5, -5], PN_RE_RA_GRAY + PN_RE_RA_GRAY_MORE, PN_RE_RA_BAND,
     PN_RE_RA_BLUE, PN_RE_RA_RED, PN_RE_RA_FIT, PN_RE_RA_UP, PN_RE_RA_LO, PN_RE_RA_STATS, True),
    (2, 2, (-5.34, -3.84), [-5, -4.5, -4], PN_LE_AB_GRAY + PN_LE_AB_GRAY_MORE, None, PN_LE_AB_BLUE,
     PN_LE_AB_RED, PN_LE_AB_FIT, PN_LE_AB_UP, PN_LE_AB_LO, PN_LE_AB_STATS, False),
    (2, 3, (-7.72, -4.3), [-7.5, -7, -6.5, -6, -5.5, -5, -4.5], PN_LE_RA_GRAY + PN_LE_RA_GRAY_MORE,
     PN_LE_RA_BAND, PN_LE_RA_BLUE, PN_LE_RA_RED, PN_LE_RA_FIT, PN_LE_RA_UP, PN_LE_RA_LO, PN_LE_RA_STATS, True),
]


def xy(lst):
    if len(lst) == 0:
        return np.array([]), np.array([])
    a = np.asarray(lst, float)
    return a[:, 0], a[:, 1]


def fmt_tick(v):
    s = ("%g" % v)
    return s.replace("-", "\u2212")


for (r, c, xlim, xt, gray, band, blue, red, fit, up, lo, stats, top) in C_PANELS:
    x0, x1 = C_COLS[c]
    y0, y1 = C_ROWS[r]
    ax = ax_px(x0, y0, x1, y1)
    ms = 22
    if band is not None:
        for yv, xl in band:
            ax.scatter(xl, [yv] * len(xl), s=ms, color=GRAY_C, linewidths=0, zorder=2)
    gx, gy = xy(gray)
    ax.scatter(gx, gy, s=ms, color=GRAY_C, linewidths=0, zorder=2)
    bx, by = xy(blue)
    ax.scatter(bx, by, s=ms, color=BLUE_C, linewidths=0, zorder=3)
    rx, ry = xy(red)
    ax.scatter(rx, ry, s=ms, color=RED_C, linewidths=0, zorder=3)
    fx, fy = xy(fit)
    ax.plot(fx, fy, color='black', lw=0.9, zorder=4)
    ux, uy = xy(up)
    ax.plot(ux, uy, color='black', lw=0.8, ls=(0, (3, 2)), zorder=4)
    lx, ly = xy(lo)
    ax.plot(lx, ly, color='black', lw=0.8, ls=(0, (3, 2)), zorder=4)
    ax.set_xlim(*xlim)
    ax.set_ylim(-0.02, 1.02)
    ax.set_xticks(xt)
    ax.set_xticklabels([fmt_tick(v) for v in xt], fontsize=5.3, color='#333333')
    ax.set_yticks([0, 0.2, 0.4, 0.6, 0.8, 1.0])
    ax.set_yticklabels(["0", "0.2", "0.4", "0.6", "0.8", "1"], fontsize=5.3, color='#333333')
    ax.tick_params(length=2, width=0.6, color='#333333', pad=1.5)
    for sp in ax.spines.values():
        sp.set_color('#333333')
        sp.set_linewidth(0.8)
    ax.set_xlabel("Mean Relative Abundance (log10)", fontsize=5.3, color='#333333', labelpad=1.5)
    ax.set_ylabel("Frequency of Occurance", fontsize=5.3, color='#333333', labelpad=2)
    rs, nm, mm, pred = stats
    tk = dict(transform=ax.transAxes, fontsize=5.3, color='#222222', va='center', ha='left', zorder=6)
    ax.text(0.01, 0.933, "Rsqr= " + rs, **tk)
    ax.text(0.08, 0.82, "Nm= " + nm, **tk)
    ax.text(0.065, 0.715, "m= " + mm, **tk)
    if top:
        ax.text(0.46, 0.935, "Predicted:", **tk)
        ax.text(0.46, 0.85, pred, **tk)
    else:
        ax.text(0.69, 0.19, "Predicted:", **tk)
        ax.text(0.69, 0.105, pred, **tk)
    if r == 0:
        fig_rect(x0, 206, x1, 216.5, '#d9d9d9')
        fig_text((x0 + x1) / 2, 211.5, C_TITLES[c], ha='center', va='center', fontsize=9, color='#1a1a1a')

# ---------------- panel d ----------------
D_COLS = [(608, 672), (698, 761)]
D_ROWS = [(216, 314), (353, 453), (488, 587)]
D_YLIM = [[(-0.06, 1.80), (-0.06, 1.70)], [(-0.08, 1.95), (-0.10, 1.80)], [(-0.07, 1.66), (-0.07, 1.66)]]
NST_VALUES = [[(NST_RE_PG, NST_RE_PG_ERR), (NST_LE_PG, NST_LE_PG_ERR)],
              [(NST_RE_PQ, NST_RE_PQ_ERR), (NST_LE_PQ, NST_LE_PQ_ERR)],
              [(NST_RE_PN, NST_RE_PN_ERR), (NST_LE_PN, NST_LE_PN_ERR)]]
D_BAR_COLORS = ['#c9242f', '#0a70c0']

for r in range(3):
    for c in range(2):
        x0, x1 = D_COLS[c]
        y0, y1 = D_ROWS[r]
        ax = ax_px(x0, y0, x1, y1)
        vals, errs = NST_VALUES[r][c]
        xs = np.arange(len(NST_GROUPS))
        ax.bar(xs, vals, 0.4, color=D_BAR_COLORS, edgecolor='none', zorder=2)
        for k in range(len(xs)):
            ax.errorbar(xs[k], vals[k], yerr=[[0], [errs[k]]], fmt='none', ecolor=D_BAR_COLORS[k],
                        elinewidth=1.0, capsize=2.2, capthick=1.0, zorder=3)
        ax.set_xlim(-0.6, 1.6)
        ax.set_ylim(*D_YLIM[r][c])
        ax.set_xticks(xs)
        ax.set_xticklabels(NST_GROUPS, fontsize=5, color='#333333')
        ax.set_yticks([0, 0.5, 1.0, 1.5])
        ax.set_yticklabels(["0.0", "0.5", "1.0", "1.5"], fontsize=7.5, color='#333333')
        ax.tick_params(length=2, width=0.6, color='#333333', pad=1.5)
        for sp in ax.spines.values():
            sp.set_color('#111111')
            sp.set_linewidth(0.9)
        ax.text(0.5, 0.9, NST_SIG[r][c], transform=ax.transAxes, ha='center', va='center',
                fontsize=7, color='#111111')
        if r == 0:
            fig_rect(x0, 202, x1, 215.5, '#d9d9d9')
            fig_text((x0 + x1) / 2, 208.5, NST_COLS[c], ha='center', va='center', fontsize=9,
                     color='#1a1a1a')
    y0, y1 = D_ROWS[r]
    fig_rect(765, y0, 783, y1 + 3, '#d9d9d9')
    fig_text(774, (y0 + y1) / 2, r"$\mathit{" + NST_ROWS[r] + "}$", rotation=-90, ha='center',
             va='center', fontsize=9, color='#1a1a1a')

fig.savefig("out.png", dpi=100)
